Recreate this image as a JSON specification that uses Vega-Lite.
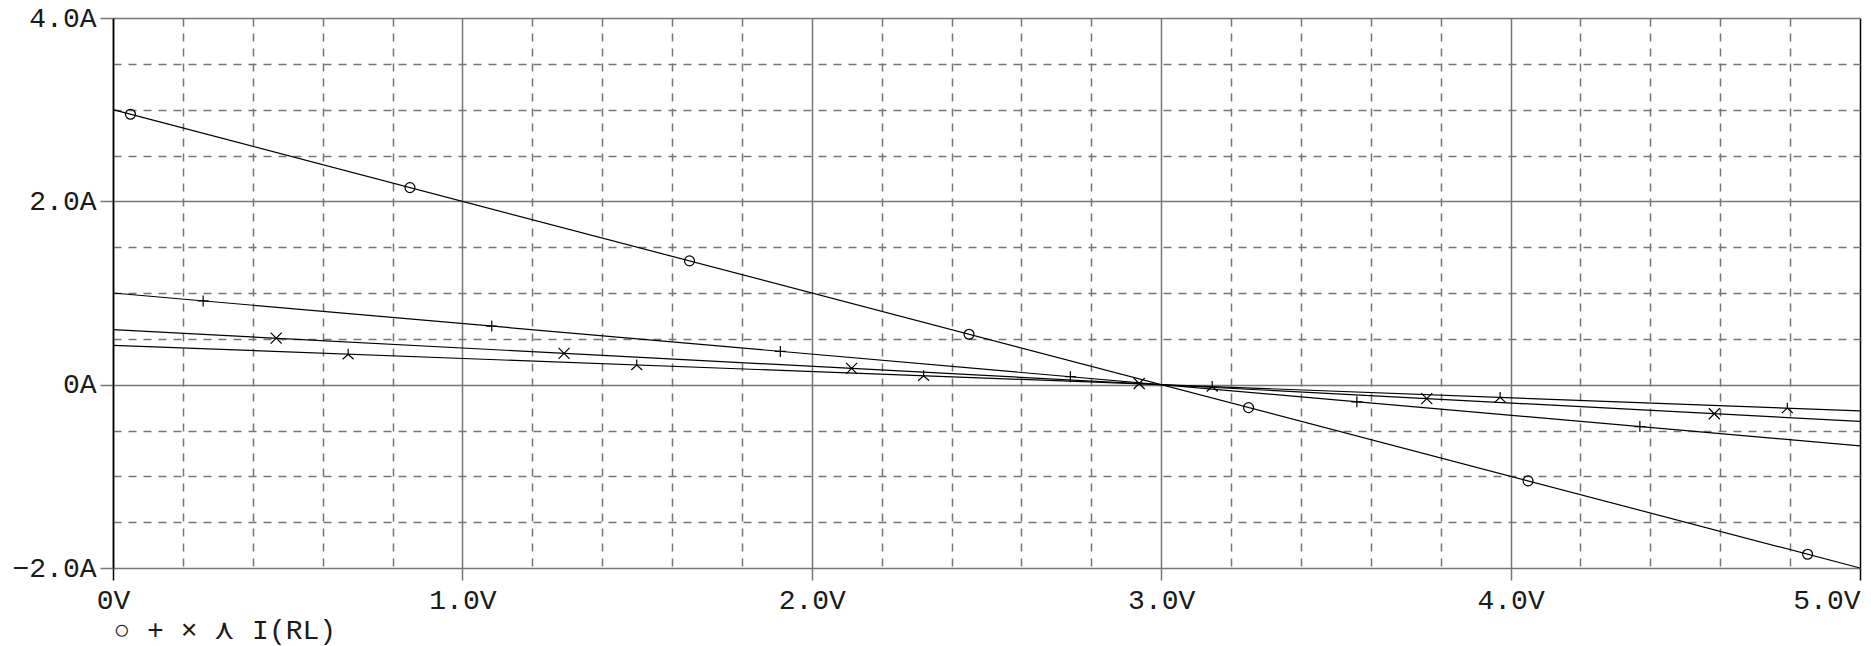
{
  "$schema": "https://vega.github.io/schema/vega-lite/v6.json",
  "width": 1747,
  "height": 550,
  "autosize": {"type": "none"},
  "padding": {"left": 113, "top": 18, "right": 11, "bottom": 78},
  "background": "white",
  "config": {
    "view": {"stroke": null},
    "font": "Liberation Mono",
    "axis": {"labelFont": "Liberation Mono", "titleFont": "Liberation Mono"}
  },
  "datasets": {
    "lines": [
      {"series": "R1", "V": 0, "I": 3.0},
      {"series": "R1", "V": 5, "I": -2.0},
      {"series": "R3", "V": 0, "I": 1.0},
      {"series": "R3", "V": 5, "I": -0.667},
      {"series": "R5", "V": 0, "I": 0.6},
      {"series": "R5", "V": 5, "I": -0.4},
      {"series": "R7", "V": 0, "I": 0.429},
      {"series": "R7", "V": 5, "I": -0.286}
    ],
    "markers": [
      {"series": "R1", "V": 0.05, "I": 2.95},
      {"series": "R1", "V": 0.85, "I": 2.15},
      {"series": "R1", "V": 1.65, "I": 1.35},
      {"series": "R1", "V": 2.45, "I": 0.55},
      {"series": "R1", "V": 3.25, "I": -0.25},
      {"series": "R1", "V": 4.05, "I": -1.05},
      {"series": "R1", "V": 4.85, "I": -1.85},
      {"series": "R3", "V": 0.258, "I": 0.914},
      {"series": "R3", "V": 1.084, "I": 0.639},
      {"series": "R3", "V": 1.91, "I": 0.363},
      {"series": "R3", "V": 2.74, "I": 0.087},
      {"series": "R3", "V": 3.56, "I": -0.187},
      {"series": "R3", "V": 4.37, "I": -0.457},
      {"series": "R5", "V": 0.467, "I": 0.507},
      {"series": "R5", "V": 1.291, "I": 0.342},
      {"series": "R5", "V": 2.114, "I": 0.177},
      {"series": "R5", "V": 2.937, "I": 0.013},
      {"series": "R5", "V": 3.76, "I": -0.152},
      {"series": "R5", "V": 4.583, "I": -0.317},
      {"series": "R7", "V": 0.673, "I": 0.332},
      {"series": "R7", "V": 1.499, "I": 0.214},
      {"series": "R7", "V": 2.32, "I": 0.097},
      {"series": "R7", "V": 3.146, "I": -0.021},
      {"series": "R7", "V": 3.97, "I": -0.139},
      {"series": "R7", "V": 4.792, "I": -0.256}
    ]
  },
  "encoding": {
    "x": {
      "field": "V", "type": "quantitative",
      "scale": {"domain": [0, 5], "nice": false, "zero": false},
      "axis": {
        "values": [0, 0.2, 0.4, 0.6, 0.8, 1, 1.2, 1.4, 1.6, 1.8, 2, 2.2, 2.4, 2.6, 2.8, 3, 3.2, 3.4, 3.6, 3.8, 4, 4.2, 4.4, 4.6, 4.8, 5],
        "grid": true,
        "gridColor": {"condition": {"test": "datum.value < 0.001 || datum.value > 4.999", "value": "#000000"}, "value": "#767676"},
        "gridDash": {"condition": {"test": "abs(datum.value - round(datum.value)) < 0.001", "value": []}, "value": [8, 7]},
        "gridWidth": 1.5,
        "domain": false,
        "ticks": true,
        "tickSize": 12,
        "tickWidth": 1.5,
        "tickColor": {"condition": {"test": "datum.value < 0.001 || datum.value > 4.999", "value": "#000000"}, "value": "#767676"},
        "tickOpacity": {"condition": {"test": "abs(datum.value - round(datum.value)) < 0.001", "value": 1}, "value": 0},
        "labelExpr": "abs(datum.value - round(datum.value)) < 0.001 ? (datum.value == 0 ? '0V' : format(datum.value, '.1f') + 'V') : ''",
        "labelAlign": {"condition": {"test": "datum.value > 4.999", "value": "right"}, "value": "center"},
        "labelFlush": false,
        "labelFontSize": 28,
        "labelColor": "#1a1a1a",
        "labelPadding": 6,
        "labelOverlap": false,
        "title": "○ + × ⋏ I(RL)",
        "titleFontSize": 28,
        "titleFontWeight": "normal",
        "titleColor": "#1a1a1a",
        "titleAlign": "left",
        "titleAnchor": "start",
        "titleBaseline": "middle",
        "titleX": 0,
        "titleY": 62
      }
    },
    "y": {
      "field": "I", "type": "quantitative",
      "scale": {"domain": [-2, 4], "nice": false, "zero": false},
      "axis": {
        "values": [-2, -1.5, -1, -0.5, 0, 0.5, 1, 1.5, 2, 2.5, 3, 3.5, 4],
        "grid": true,
        "gridColor": "#767676",
        "gridDash": {"condition": {"test": "abs(datum.value / 2 - round(datum.value / 2)) < 0.001", "value": []}, "value": [8, 7]},
        "gridWidth": 1.5,
        "domain": true,
        "domainColor": "#000000",
        "domainWidth": 1.5,
        "ticks": true,
        "tickSize": 13,
        "tickWidth": 1.5,
        "tickColor": "#767676",
        "tickOpacity": {"condition": {"test": "abs(datum.value / 2 - round(datum.value / 2)) < 0.001", "value": 1}, "value": 0},
        "labelExpr": "abs(datum.value / 2 - round(datum.value / 2)) < 0.001 ? (datum.value == 0 ? '0A' : format(datum.value, '.1f') + 'A') : ''",
        "labelFontSize": 28,
        "labelColor": "#1a1a1a",
        "labelPadding": 4,
        "labelBaseline": "middle",
        "labelFlush": false,
        "labelOverlap": false,
        "title": null
      }
    }
  },
  "layer": [
    {
      "data": {"name": "lines"},
      "mark": {"type": "line", "color": "#000000", "strokeWidth": 1.2},
      "encoding": {"detail": {"field": "series", "type": "nominal"}}
    },
    {
      "data": {"name": "markers"},
      "mark": {"type": "point", "filled": false, "stroke": "#000000", "strokeWidth": 1.2, "size": 121, "opacity": 1},
      "encoding": {
        "shape": {
          "field": "series", "type": "nominal",
          "scale": {
            "domain": ["R1", "R3", "R5", "R7"],
            "range": [
              "M-0.9,0A0.9,0.9 0 1,1 0.9,0A0.9,0.9 0 1,1 -0.9,0Z",
              "M-1,0L1,0M0,-1L0,1",
              "M-1,-1L1,1M-1,1L1,-1",
              "M0,-1L0,0M-1,0.9L0,0L1,0.9"
            ]
          },
          "legend": null
        }
      }
    }
  ]
}
